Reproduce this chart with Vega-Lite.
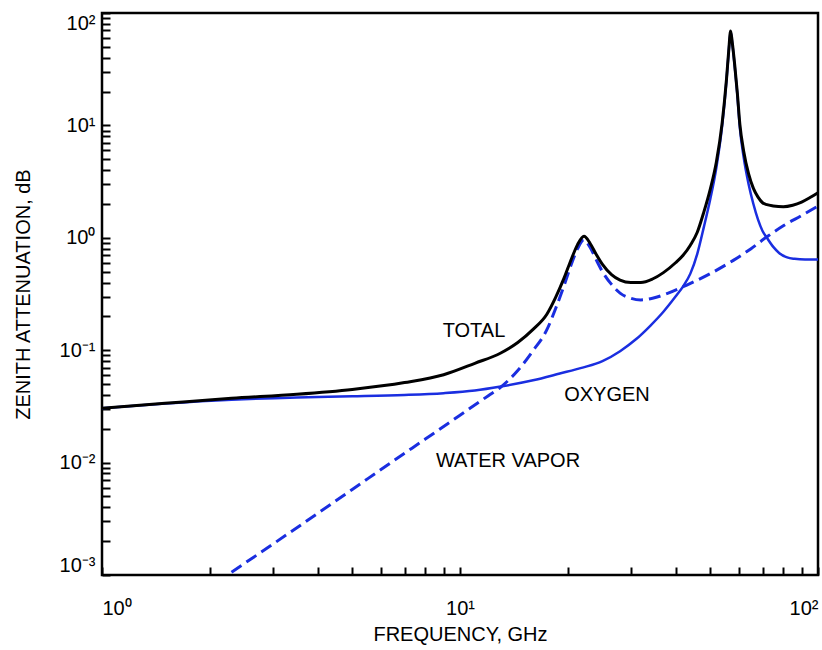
{
  "$schema": "https://vega.github.io/schema/vega-lite/v6.json",
  "width": 716,
  "height": 562,
  "autosize": {"type": "none"},
  "padding": {"left": 102, "top": 13, "right": 4, "bottom": 75},
  "background": "white",
  "config": {
    "view": {"stroke": "black", "strokeWidth": 2.5},
    "font": "Liberation Sans"
  },
  "datasets": {
    "total": [
      {"f": 1, "v": 0.0305}, {"f": 1.5, "v": 0.0337}, {"f": 2.3, "v": 0.0373}, {"f": 3.5, "v": 0.0405},
      {"f": 5, "v": 0.0447}, {"f": 7, "v": 0.0515}, {"f": 9, "v": 0.0605}, {"f": 11, "v": 0.0765},
      {"f": 13, "v": 0.0945}, {"f": 14.5, "v": 0.117}, {"f": 16, "v": 0.153}, {"f": 17.5, "v": 0.21},
      {"f": 18.5, "v": 0.295}, {"f": 19.5, "v": 0.433}, {"f": 20.5, "v": 0.655}, {"f": 21.3, "v": 0.87},
      {"f": 22.2, "v": 1.03}, {"f": 23.1, "v": 0.89}, {"f": 24, "v": 0.715}, {"f": 25, "v": 0.58},
      {"f": 26.5, "v": 0.47}, {"f": 28, "v": 0.42}, {"f": 30, "v": 0.40}, {"f": 32, "v": 0.40},
      {"f": 34.5, "v": 0.43}, {"f": 37, "v": 0.49}, {"f": 40, "v": 0.60}, {"f": 42, "v": 0.70},
      {"f": 44, "v": 0.86}, {"f": 46, "v": 1.12}, {"f": 48, "v": 1.7}, {"f": 50, "v": 2.7},
      {"f": 52, "v": 4.7}, {"f": 54, "v": 10.6}, {"f": 55.5, "v": 25.6}, {"f": 56.3, "v": 45.6},
      {"f": 57, "v": 69}, {"f": 57.6, "v": 55}, {"f": 58.5, "v": 35}, {"f": 59.5, "v": 19.7},
      {"f": 60.5, "v": 10.2}, {"f": 62, "v": 5.9}, {"f": 64, "v": 3.7}, {"f": 66, "v": 2.75},
      {"f": 68, "v": 2.3}, {"f": 70, "v": 2.05}, {"f": 72, "v": 1.97}, {"f": 75, "v": 1.92},
      {"f": 80, "v": 1.89}, {"f": 85, "v": 1.95}, {"f": 90, "v": 2.08}, {"f": 95, "v": 2.28},
      {"f": 100, "v": 2.52}
    ],
    "oxygen": [
      {"f": 1, "v": 0.0305}, {"f": 1.5, "v": 0.0335}, {"f": 2.3, "v": 0.0362}, {"f": 3.5, "v": 0.038},
      {"f": 5, "v": 0.0389}, {"f": 7, "v": 0.04}, {"f": 9, "v": 0.0415}, {"f": 11, "v": 0.0438},
      {"f": 13, "v": 0.0475}, {"f": 16, "v": 0.054}, {"f": 19, "v": 0.062}, {"f": 22, "v": 0.07},
      {"f": 25, "v": 0.08}, {"f": 28, "v": 0.098}, {"f": 31, "v": 0.125}, {"f": 34, "v": 0.165},
      {"f": 37, "v": 0.22}, {"f": 40, "v": 0.3}, {"f": 42, "v": 0.37}, {"f": 44, "v": 0.48},
      {"f": 46, "v": 0.72}, {"f": 48, "v": 1.25}, {"f": 50, "v": 2.2}, {"f": 52, "v": 4.2},
      {"f": 54, "v": 10}, {"f": 55.5, "v": 25}, {"f": 56.3, "v": 45}, {"f": 57, "v": 68},
      {"f": 57.6, "v": 54}, {"f": 58.5, "v": 34}, {"f": 59.5, "v": 19}, {"f": 60.5, "v": 9.5},
      {"f": 62, "v": 5.2}, {"f": 64, "v": 3.0}, {"f": 66, "v": 2.0}, {"f": 68, "v": 1.45},
      {"f": 70, "v": 1.15}, {"f": 72, "v": 1.0}, {"f": 75, "v": 0.83}, {"f": 78, "v": 0.73},
      {"f": 82, "v": 0.67}, {"f": 86, "v": 0.65}, {"f": 92, "v": 0.64}, {"f": 100, "v": 0.64}
    ],
    "water": [
      {"f": 2.3, "v": 0.00106}, {"f": 3, "v": 0.00188}, {"f": 4, "v": 0.00353}, {"f": 5, "v": 0.00577},
      {"f": 6.5, "v": 0.0103}, {"f": 8, "v": 0.0162}, {"f": 10, "v": 0.0264}, {"f": 12, "v": 0.0394},
      {"f": 13, "v": 0.047}, {"f": 14.5, "v": 0.066}, {"f": 16, "v": 0.099}, {"f": 17.5, "v": 0.153},
      {"f": 18.5, "v": 0.235}, {"f": 19.5, "v": 0.37}, {"f": 20.5, "v": 0.59}, {"f": 21.3, "v": 0.8},
      {"f": 22.2, "v": 0.96}, {"f": 23.1, "v": 0.82}, {"f": 24, "v": 0.64}, {"f": 25, "v": 0.5},
      {"f": 26.5, "v": 0.385}, {"f": 28, "v": 0.322}, {"f": 30, "v": 0.29}, {"f": 32, "v": 0.28},
      {"f": 34.5, "v": 0.29}, {"f": 38, "v": 0.32}, {"f": 43, "v": 0.38}, {"f": 50, "v": 0.48},
      {"f": 58, "v": 0.63}, {"f": 65, "v": 0.8}, {"f": 72, "v": 1.02}, {"f": 80, "v": 1.28},
      {"f": 90, "v": 1.58}, {"f": 100, "v": 1.92}
    ],
    "labels": [
      {"f": 10.94, "v": 0.148, "text": "TOTAL"},
      {"f": 25.74, "v": 0.0399, "text": "OXYGEN"},
      {"f": 13.62, "v": 0.01033, "text": "WATER VAPOR"}
    ]
  },
  "layer": [
    {
      "data": {"name": "water"},
      "mark": {"type": "line", "color": "#1a2ee0", "strokeWidth": 3, "strokeDash": [12, 6], "interpolate": "monotone", "clip": true},
      "encoding": {
        "x": {"field": "f", "type": "quantitative", "scale": {"type": "log", "domain": [1, 100]},
          "axis": {"orient": "bottom", "values": [1,2,3,4,5,6,7,8,9,10,20,30,40,50,60,70,80,90,100],
            "labelExpr": "datum.value == 100 ? '10²' : datum.value == 10 ? '10¹' : datum.value == 1 ? '10⁰' : ''",
            "labelFlush": true, "labelOverlap": false, "labelBound": false, "labelFontSize": 20, "labelColor": "black", "labelPadding": 31,
            "domain": false, "grid": false, "ticks": true, "tickColor": "black", "tickOpacity": 1, "tickWidth": 2, "tickSize": -8,
            "title": "FREQUENCY, GHz", "titleFontSize": 20, "titleFontWeight": "normal", "titleColor": "black", "titlePadding": 6}},
        "y": {"field": "v", "type": "quantitative", "scale": {"type": "log", "domain": [0.001, 100]},
          "axis": {"orient": "left", "values": [0.001,0.002,0.003,0.004,0.005,0.006,0.007,0.008,0.009,0.01,0.02,0.03,0.04,0.05,0.06,0.07,0.08,0.09,0.1,0.2,0.3,0.4,0.5,0.6,0.7,0.8,0.9,1,2,3,4,5,6,7,8,9,10,20,30,40,50,60,70,80,90,100],
            "labelExpr": "datum.value == 100 ? '10²' : datum.value == 10 ? '10¹' : datum.value == 1 ? '10⁰' : datum.value == 0.1 ? '10⁻¹' : datum.value == 0.01 ? '10⁻²' : datum.value == 0.001 ? '10⁻³' : ''",
            "labelFlush": true, "labelOverlap": false, "labelBound": false, "labelFontSize": 20, "labelColor": "black", "labelPadding": 15,
            "domain": false, "grid": false, "ticks": true, "tickColor": "black", "tickOpacity": 1, "tickWidth": 2, "tickSize": -8,
            "title": "ZENITH ATTENUATION, dB", "titleFontSize": 20, "titleFontWeight": "normal", "titleColor": "black", "titlePadding": 26}}
      }
    },
    {
      "data": {"name": "oxygen"},
      "mark": {"type": "line", "color": "#1a2ee0", "strokeWidth": 2.5, "interpolate": "monotone", "clip": true},
      "encoding": {
        "x": {"field": "f", "type": "quantitative"},
        "y": {"field": "v", "type": "quantitative"}
      }
    },
    {
      "data": {"name": "total"},
      "mark": {"type": "line", "color": "black", "strokeWidth": 3, "interpolate": "monotone", "clip": true},
      "encoding": {
        "x": {"field": "f", "type": "quantitative"},
        "y": {"field": "v", "type": "quantitative"}
      }
    },
    {
      "data": {"name": "labels"},
      "mark": {"type": "text", "fontSize": 20, "color": "black", "align": "center", "baseline": "middle"},
      "encoding": {
        "x": {"field": "f", "type": "quantitative"},
        "y": {"field": "v", "type": "quantitative"},
        "text": {"field": "text"}
      }
    }
  ]
}
